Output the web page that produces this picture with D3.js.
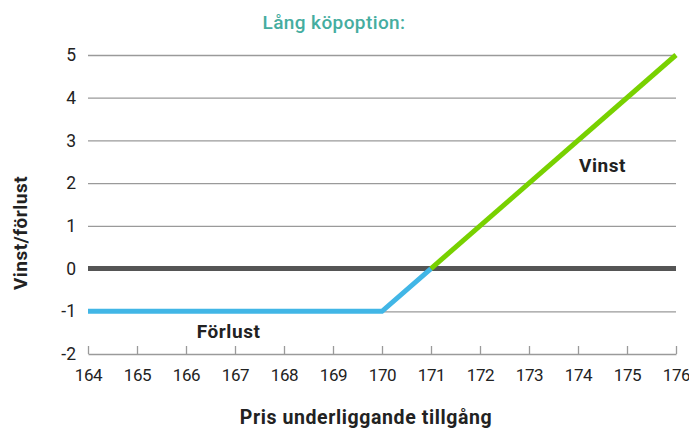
<!DOCTYPE html>
<html>
<head>
<meta charset="utf-8">
<script src="https://cdn.jsdelivr.net/npm/d3@7"></script>
<style>
  body { margin: 0; background: #fff; }
  svg { display: block; font-family: Roboto, "DejaVu Sans", sans-serif; }
</style>
</head>
<body>
<div class="payoff-chart"></div>
<script>
// data
const xTicks = [164, 165, 166, 167, 168, 169, 170, 171, 172, 173, 174, 175, 176];
const yTicks = [-2, -1, 0, 1, 2, 3, 4, 5];
const lossPrices = [164, 170, 171];
const lossValues = [-1, -1, 0];
const gainPrices = [171, 176];
const gainValues = [0, 5];
const zeroPrices = [164, 176];
const zeroValues = [0, 0];

const titleText = "Lång köpoption:";
const xTitle = "Pris underliggande tillgång";
const yTitle = "Vinst/förlust";

let svg = d3.select(".payoff-chart").append("svg")
    .attr("width", 689).attr("height", 428);

let margin = {top: 55, right: 13, bottom: 74, left: 88},
    width = 689 - margin.left - margin.right,
    height = 428 - margin.top - margin.bottom,
    g = svg.append("g").attr("transform", "translate(" + margin.left + "," + margin.top + ")");

let x = d3.scaleLinear().domain([164, 176]).range([0, width]),
    y = d3.scaleLinear().domain([-2, 5]).range([height, 0]);

// grid lines
g.append("g")
    .attr("class", "grid")
    .call(d3.axisLeft(y).tickValues(yTicks.filter(d => d > -2)).tickSize(-width).tickFormat(""))
    .call(s => s.select(".domain").remove())
    .selectAll("line")
    .attr("stroke", "#9a9a9a")
    .attr("stroke-width", 1.3);

// y labels
g.append("g")
    .attr("class", "axis-left")
    .call(d3.axisLeft(y).tickValues(yTicks).tickSize(0).tickPadding(12).tickFormat(d => String(d)))
    .call(s => s.select(".domain").remove())
    .selectAll("text")
    .attr("font-size", 17.5)
    .attr("fill", "#222")
    .style("font-family", "Roboto, sans-serif");

// bottom axis with inward ticks
let xAxis = g.append("g")
    .attr("class", "axis-bottom")
    .attr("transform", "translate(0," + height + ")")
    .call(d3.axisBottom(x).tickValues(xTicks).tickSizeInner(-8).tickSizeOuter(0).tickPadding(15).tickFormat(d => String(d)));
xAxis.select(".domain").attr("stroke", "#9a9a9a").attr("stroke-width", 1.5);
xAxis.selectAll("line").attr("stroke", "#9a9a9a").attr("stroke-width", 1.3);
xAxis.selectAll("text")
    .attr("font-size", 17)
    .attr("letter-spacing", -0.4)
    .attr("fill", "#222")
    .style("font-family", "Roboto, sans-serif");

let line = d3.line()
    .x(d => x(d[0]))
    .y(d => y(d[1]));

// zero line
g.append("path")
    .datum(d3.zip(zeroPrices, zeroValues))
    .attr("d", line)
    .attr("fill", "none")
    .attr("stroke", "#555555")
    .attr("stroke-width", 5);

// loss part
g.append("path")
    .datum(d3.zip(lossPrices, lossValues))
    .attr("d", line)
    .attr("fill", "none")
    .attr("stroke", "#41b6e6")
    .attr("stroke-width", 5);

// gain part
g.append("path")
    .datum(d3.zip(gainPrices, gainValues))
    .attr("d", line)
    .attr("fill", "none")
    .attr("stroke", "#78d100")
    .attr("stroke-width", 5);

// labels on the lines
g.append("text")
    .attr("x", x(174.5))
    .attr("y", y(2.26))
    .attr("text-anchor", "middle")
    .attr("font-size", 19)
    .attr("font-weight", "bold")
    .attr("letter-spacing", 0.5)
    .attr("fill", "#222")
    .text("Vinst");

g.append("text")
    .attr("x", x(166.87))
    .attr("y", y(-1.63))
    .attr("text-anchor", "middle")
    .attr("font-size", 19)
    .attr("font-weight", "bold")
    .attr("letter-spacing", 0.6)
    .attr("fill", "#222")
    .text("Förlust");

// title
svg.append("text")
    .attr("x", 334)
    .attr("y", 29)
    .attr("text-anchor", "middle")
    .attr("font-size", 19)
    .attr("font-weight", 500)
    .attr("letter-spacing", 0.4)
    .attr("fill", "#45ada0")
    .text(titleText);

// axis titles
svg.append("text")
    .attr("x", 366)
    .attr("y", 424)
    .attr("text-anchor", "middle")
    .attr("font-size", 19.5)
    .attr("font-weight", "bold")
    .attr("letter-spacing", 0.6)
    .attr("fill", "#222")
    .text(xTitle);

svg.append("text")
    .attr("transform", "translate(27,233) rotate(-90)")
    .attr("text-anchor", "middle")
    .attr("font-size", 19)
    .attr("font-weight", "bold")
    .attr("letter-spacing", 0.5)
    .attr("fill", "#222")
    .text(yTitle);
</script>
</body>
</html>
